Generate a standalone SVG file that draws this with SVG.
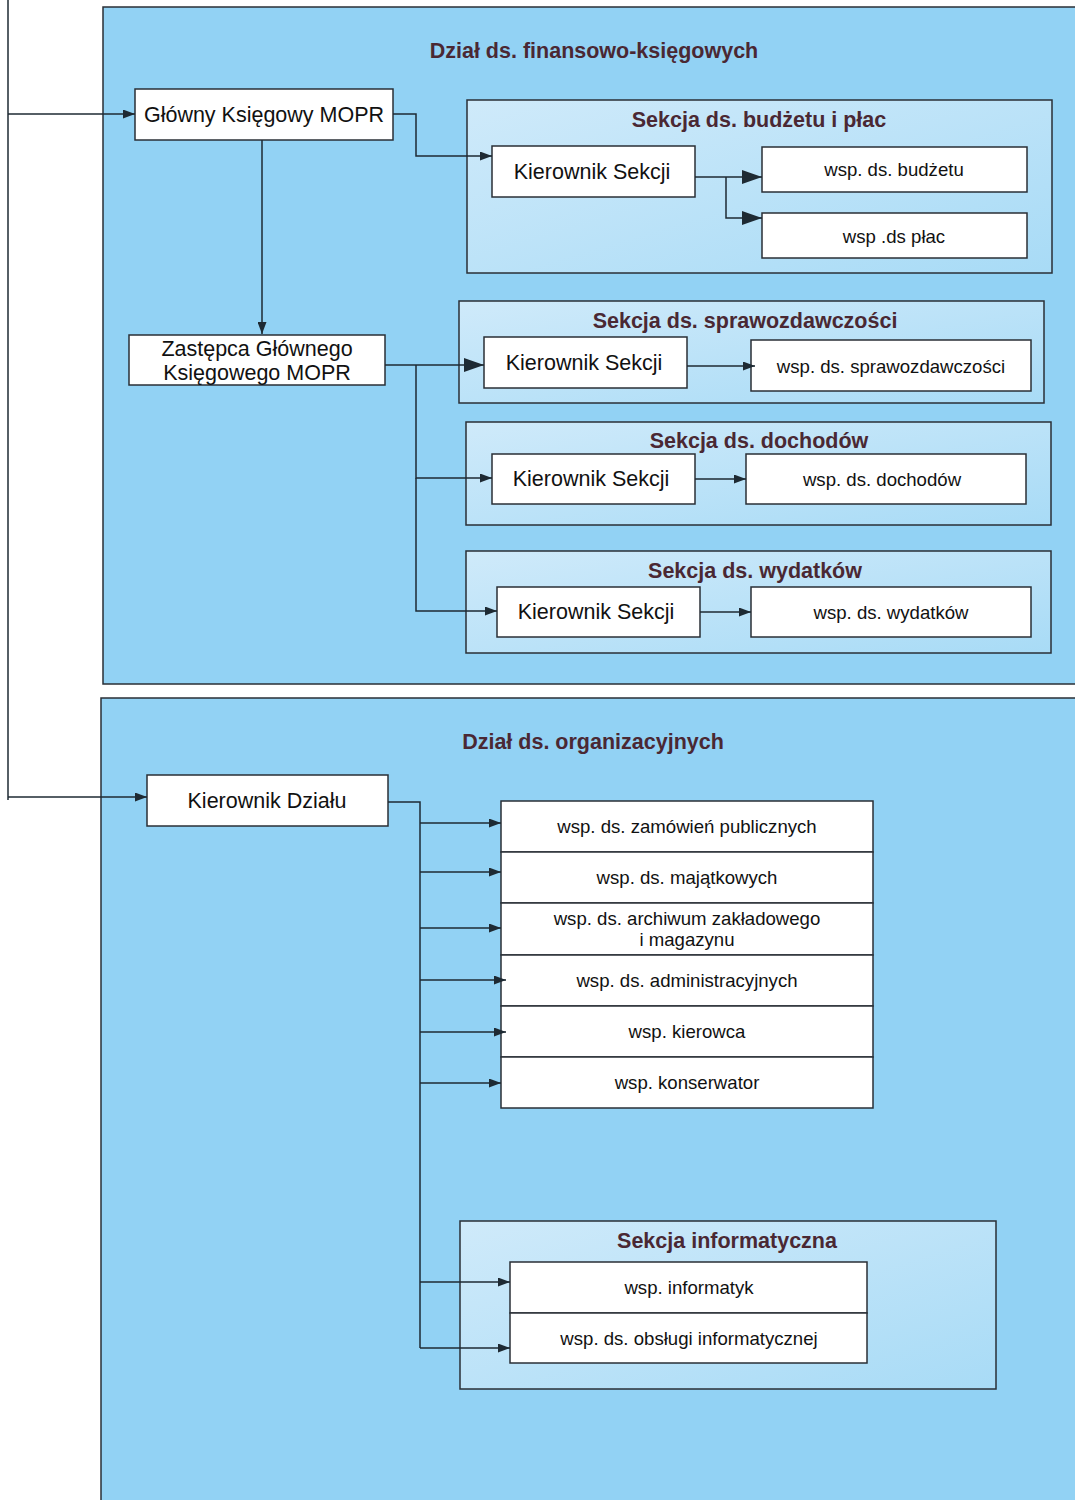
<svg xmlns="http://www.w3.org/2000/svg" width="1075" height="1500" viewBox="0 0 1075 1500">
<defs>
<linearGradient id="secg" x1="0" y1="0" x2="1" y2="1">
<stop offset="0" stop-color="#cfeafa"/>
<stop offset="1" stop-color="#a8dbf6"/>
</linearGradient>
<marker id="ah" viewBox="0 0 12 9" refX="12" refY="4.5" markerWidth="12" markerHeight="9" markerUnits="userSpaceOnUse" orient="auto">
<path d="M0,0 L12,4.5 L0,9 z" fill="#1e2a33"/>
</marker>
<marker id="ahb" viewBox="0 0 20 14" refX="20" refY="7" markerWidth="20" markerHeight="14" markerUnits="userSpaceOnUse" orient="auto">
<path d="M0,0 L20,7 L0,14 z" fill="#1e2a33"/>
</marker>
<style>
.dz{fill:#92d2f4;stroke:#2a2f36;stroke-width:1.5}
.sec{fill:url(#secg);stroke:#2a2f36;stroke-width:1.5}
.bx{fill:#ffffff;stroke:#2a2f36;stroke-width:1.5}
.t1{font-family:"Liberation Sans",Arial,sans-serif;font-weight:bold;font-size:21.5px;fill:#4a2833;text-anchor:middle}
.tb{font-family:"Liberation Sans",Arial,sans-serif;font-size:21.5px;fill:#111;text-anchor:middle}
.ts{font-family:"Liberation Sans",Arial,sans-serif;font-size:18.6px;fill:#111;text-anchor:middle}
.c{fill:none;stroke:#1e2a33;stroke-width:1.5}
.ca{fill:none;stroke:#1e2a33;stroke-width:1.5;marker-end:url(#ah)}
.cb{fill:none;stroke:#1e2a33;stroke-width:1.5;marker-end:url(#ahb)}
</style>
</defs>
<rect width="1075" height="1500" fill="#ffffff"/>

<g id="dzial-fin">
<rect class="dz" x="103" y="7" width="980" height="677"/>
<text class="t1" x="594" y="58">Dział ds. finansowo-księgowych</text>
</g>
<g id="dzial-org">
<rect class="dz" x="101" y="698" width="982" height="810"/>
<text class="t1" x="593" y="749">Dział ds. organizacyjnych</text>
</g>

<g id="sekcja-budzetu">
<rect class="sec" x="467" y="100" width="585" height="173"/>
<text class="t1" x="759" y="127">Sekcja ds. budżetu i płac</text>
</g>
<g id="sekcja-sprawozdawczosci">
<rect class="sec" x="459" y="301" width="585" height="102"/>
<text class="t1" x="745" y="328">Sekcja ds. sprawozdawczości</text>
</g>
<g id="sekcja-dochodow">
<rect class="sec" x="466" y="422" width="585" height="103"/>
<text class="t1" x="759" y="448">Sekcja ds. dochodów</text>
</g>
<g id="sekcja-wydatkow">
<rect class="sec" x="466" y="551" width="585" height="102"/>
<text class="t1" x="755" y="578">Sekcja ds. wydatków</text>
</g>
<g id="sekcja-informatyczna">
<rect class="sec" x="460" y="1221" width="536" height="168"/>
<text class="t1" x="727" y="1248">Sekcja informatyczna</text>
</g>

<g id="glowny">
<rect class="bx" x="135" y="89" width="258" height="51"/>
<text class="tb" x="264" y="122">Główny Księgowy MOPR</text>
</g>
<g id="zastepca">
<rect class="bx" x="129" y="335" width="256" height="50"/>
<text class="tb" x="257" y="356">Zastępca Głównego</text>
<text class="tb" x="257" y="380">Księgowego MOPR</text>
</g>

<g id="kier-budzet">
<rect class="bx" x="492" y="146" width="203" height="51"/>
<text class="tb" x="592" y="179">Kierownik Sekcji</text>
</g>
<g id="wsp-budzet">
<rect class="bx" x="762" y="147" width="265" height="45"/>
<text class="ts" x="894" y="176">wsp. ds. budżetu</text>
</g>
<g id="wsp-plac">
<rect class="bx" x="762" y="213" width="265" height="45"/>
<text class="ts" x="894" y="243">wsp .ds płac</text>
</g>

<g id="kier-spraw">
<rect class="bx" x="484" y="337" width="203" height="51"/>
<text class="tb" x="584" y="370">Kierownik Sekcji</text>
</g>
<g id="wsp-spraw">
<rect class="bx" x="751" y="340" width="280" height="51"/>
<text class="ts" x="891" y="373">wsp. ds. sprawozdawczości</text>
</g>

<g id="kier-doch">
<rect class="bx" x="492" y="454" width="203" height="50"/>
<text class="tb" x="591" y="486">Kierownik Sekcji</text>
</g>
<g id="wsp-doch">
<rect class="bx" x="746" y="454" width="280" height="50"/>
<text class="ts" x="882" y="486">wsp. ds. dochodów</text>
</g>

<g id="kier-wyd">
<rect class="bx" x="497" y="587" width="203" height="50"/>
<text class="tb" x="596" y="619">Kierownik Sekcji</text>
</g>
<g id="wsp-wyd">
<rect class="bx" x="751" y="587" width="280" height="50"/>
<text class="ts" x="891" y="619">wsp. ds. wydatków</text>
</g>

<g id="kier-dzialu">
<rect class="bx" x="147" y="775" width="241" height="51"/>
<text class="tb" x="267" y="808">Kierownik Działu</text>
</g>

<g id="wsp-zamowien">
<rect class="bx" x="501" y="801" width="372" height="51"/>
<text class="ts" x="687" y="833">wsp. ds. zamówień publicznych</text>
</g>
<g id="wsp-majatkowych">
<rect class="bx" x="501" y="852" width="372" height="51"/>
<text class="ts" x="687" y="884">wsp. ds. majątkowych</text>
</g>
<g id="wsp-archiwum">
<rect class="bx" x="501" y="903" width="372" height="52"/>
<text class="ts" x="687" y="925">wsp. ds. archiwum zakładowego</text>
<text class="ts" x="687" y="946">i magazynu</text>
</g>
<g id="wsp-admin">
<rect class="bx" x="501" y="955" width="372" height="51"/>
<text class="ts" x="687" y="987">wsp. ds. administracyjnych</text>
</g>
<g id="wsp-kierowca">
<rect class="bx" x="501" y="1006" width="372" height="51"/>
<text class="ts" x="687" y="1038">wsp. kierowca</text>
</g>
<g id="wsp-konserwator">
<rect class="bx" x="501" y="1057" width="372" height="51"/>
<text class="ts" x="687" y="1089">wsp. konserwator</text>
</g>

<g id="wsp-informatyk">
<rect class="bx" x="510" y="1262" width="357" height="51"/>
<text class="ts" x="689" y="1294">wsp. informatyk</text>
</g>
<g id="wsp-obslugi">
<rect class="bx" x="510" y="1313" width="357" height="50"/>
<text class="ts" x="689" y="1345">wsp. ds. obsługi informatycznej</text>
</g>

<g id="connectors">
<path class="c" d="M8,0 V800"/>
<path class="ca" d="M8,114 H135"/>
<path class="ca" d="M8,797 H147"/>
<path class="ca" d="M393,114 H416 V156 H492"/>
<path class="ca" d="M262,140 V334"/>
<path class="cb" d="M695,177 H762"/>
<path class="cb" d="M726,177 V218 H762"/>
<path class="cb" d="M385,365 H484"/>
<path class="ca" d="M416,365 V478 H492"/>
<path class="ca" d="M416,478 V611 H497"/>
<path class="ca" d="M687,366 H755"/>
<path class="ca" d="M695,479 H746"/>
<path class="ca" d="M700,612 H751"/>
<path class="c" d="M388,802 H420 V1348"/>
<path class="ca" d="M420,823 H501"/>
<path class="ca" d="M420,872 H501"/>
<path class="ca" d="M420,928 H501"/>
<path class="ca" d="M420,980 H506"/>
<path class="ca" d="M420,1032 H506"/>
<path class="ca" d="M420,1083 H501"/>
<path class="ca" d="M420,1282 H510"/>
<path class="ca" d="M420,1348 H510"/>
</g>
</svg>
